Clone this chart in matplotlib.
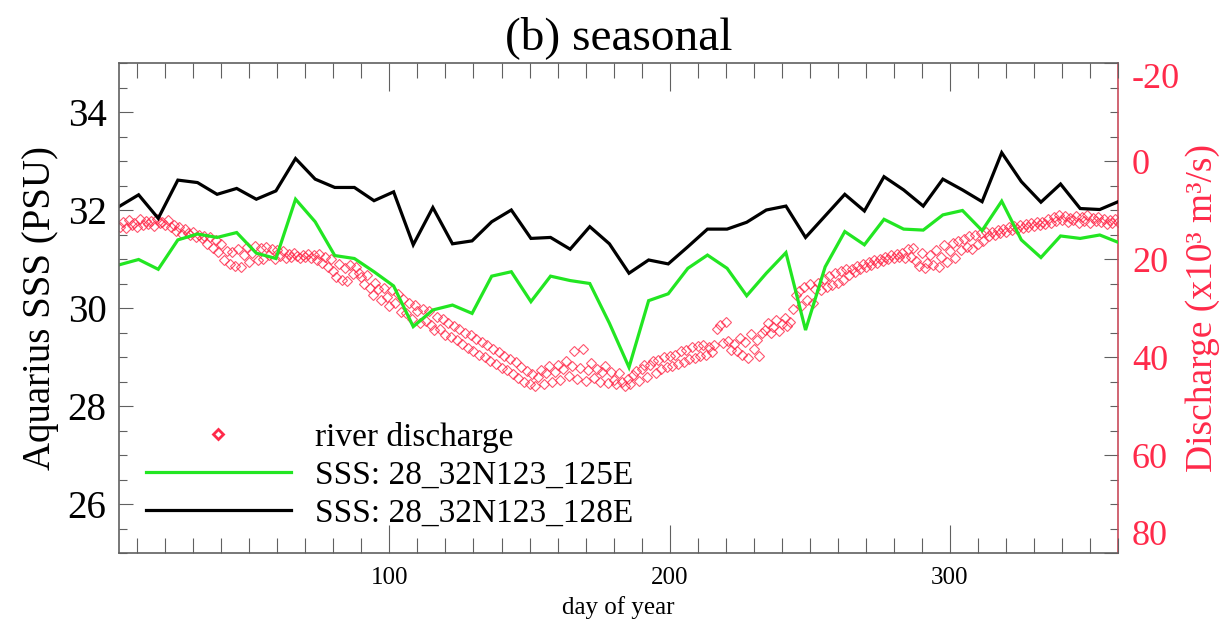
import numpy as np
import matplotlib
matplotlib.use("Agg")
import matplotlib.pyplot as plt
from matplotlib.lines import Line2D
from matplotlib.ticker import MultipleLocator, FixedLocator

plt.rcParams['font.family'] = ['Liberation Serif', 'DejaVu Serif']

# ---------------- data ----------------
title = "(b) seasonal"
xlabel = "day of year"
ylabel_left = "Aquarius SSS (PSU)"
ylabel_right = "Discharge (x10\u00b3 m\u00b3/s)"
label_dis = "river discharge"
label_g = "SSS: 28_32N123_125E"
label_k = "SSS: 28_32N123_128E"

week_days = np.arange(52) * 7 + 3.5

sss_125E = [30.88, 30.99, 30.79, 31.39, 31.51, 31.44, 31.54, 31.12, 31.01, 32.22,
            31.76, 31.07, 31.01, 30.74, 30.45, 29.62, 29.96, 30.06, 29.89, 30.65,
            30.74, 30.13, 30.65, 30.56, 30.50, 29.69, 28.79, 30.15, 30.29, 30.81,
            31.08, 30.81, 30.25, 30.71, 31.13, 29.55, 30.84, 31.56, 31.29, 31.81,
            31.61, 31.59, 31.90, 31.99, 31.58, 32.18, 31.39, 31.03, 31.47, 31.42,
            31.49, 31.33]

sss_128E = [32.07, 32.31, 31.83, 32.61, 32.56, 32.32, 32.44, 32.22, 32.39, 33.05,
            32.63, 32.46, 32.46, 32.19, 32.37, 31.29, 32.05, 31.31, 31.37, 31.76,
            32.00, 31.42, 31.44, 31.20, 31.66, 31.31, 30.71, 30.98, 30.90, 31.25,
            31.61, 31.61, 31.75, 32.00, 32.08, 31.44, 31.88, 32.32, 31.98, 32.68,
            32.41, 32.08, 32.63, 32.41, 32.17, 33.17, 32.58, 32.16, 32.53, 32.03,
            32.01, 32.18]

dis_days = np.arange(4, 361)
discharge = [
    13.4, 12.4, 13.6, 12.0, 13.0, 12.7, 13.5, 11.9, 13.1, 12.3,
    12.9, 12.2, 13.3, 11.8, 12.6, 12.4, 13.1, 12.0, 13.4, 13.0,
    14.2, 13.5, 14.8, 13.9, 14.6, 15.0, 14.4, 15.6, 15.1, 15.8,
    15.4, 16.9, 15.6, 17.8, 16.2, 18.6, 17.0, 20.2, 18.4, 21.0,
    18.6, 21.4, 18.0, 21.6, 19.2, 17.6, 20.6, 18.8, 17.4, 20.2,
    17.8, 19.9, 17.5, 19.2, 17.9, 20.0, 18.2, 19.4, 18.4, 19.8,
    19.0, 19.6, 18.8, 19.3, 19.8, 19.1, 19.5, 18.9, 19.7, 19.2,
    20.2, 19.0, 20.8, 19.5, 21.6, 19.9, 22.4, 23.6, 21.0, 24.2,
    21.8, 24.4, 21.2, 23.0, 21.6, 22.9, 23.6, 25.2, 23.2, 26.0,
    27.4, 24.8, 26.2, 28.3, 25.9, 27.8, 29.6, 26.4, 28.9, 27.2,
    30.8, 28.2, 31.0, 29.0, 32.2, 29.4, 30.6, 33.0, 30.2, 32.6,
    30.6, 33.4, 34.4, 31.8, 34.2, 32.2, 35.6, 33.0, 36.0, 33.6,
    36.6, 34.2, 37.4, 35.0, 38.2, 35.6, 38.8, 36.4, 39.6, 37.0,
    40.0, 37.6, 40.8, 38.4, 41.4, 39.0, 42.2, 39.8, 42.6, 40.4,
    43.4, 41.0, 44.2, 42.0, 45.0, 42.8, 45.6, 43.4, 46.0, 44.0,
    42.6, 45.6, 43.2, 41.8, 45.2, 43.0, 41.6, 44.6, 42.4, 40.8,
    43.8, 41.8, 38.8, 44.4, 42.2, 38.4, 44.8, 42.6, 41.2, 44.2,
    42.4, 45.0, 43.0, 41.8, 45.4, 43.0, 44.6, 45.6, 43.2, 45.0,
    46.0, 44.4, 45.6, 43.6, 42.8, 44.8, 42.4, 41.6, 44.0, 41.6,
    40.8, 43.2, 40.6, 42.4, 40.0, 42.0, 39.8, 41.8, 39.6, 41.4,
    38.8, 41.0, 38.6, 40.4, 38.0, 40.2, 37.8, 39.8, 37.6, 39.6,
    37.9, 38.9, 37.5, 34.2, 33.4, 37.2, 32.8, 36.8, 38.6, 37.4,
    38.8, 36.2, 39.6, 37.0, 40.2, 35.4, 38.4, 36.6, 39.8, 35.0,
    34.4, 33.0, 35.0, 33.8, 32.4, 34.6, 33.2, 32.0, 33.6, 32.8,
    30.2, 27.4, 26.6, 29.6, 25.8, 28.4, 25.2, 29.0, 26.2, 24.8,
    26.4, 24.0, 25.8, 23.4, 25.4, 22.8, 24.8, 22.4, 24.2, 22.0,
    23.2, 22.0, 22.6, 21.5, 22.1, 21.0, 21.7, 20.6, 21.3, 20.2,
    20.9, 19.9, 20.4, 19.5, 20.1, 19.2, 19.8, 18.9, 19.6, 18.7,
    19.8, 18.0, 19.6, 17.8, 20.4, 21.4, 18.8, 21.8, 20.8, 19.2,
    21.2, 18.2, 21.6, 19.6, 17.2, 20.6, 18.4, 16.8, 19.8, 16.4,
    18.2, 16.0, 17.6, 15.4, 17.9, 15.0, 17.0, 14.7, 16.4, 14.4,
    15.4, 14.4, 15.0, 14.0, 14.6, 13.8, 14.4, 13.5, 14.1, 13.2,
    13.9, 13.0, 13.6, 12.8, 13.4, 12.6, 13.3, 12.5, 13.1, 12.4,
    12.9, 11.8, 12.6, 11.4, 12.2, 11.0, 12.0, 11.3, 12.4, 11.6,
    12.1, 11.2, 12.6, 11.5, 12.3, 11.0, 12.7, 11.7, 12.2, 11.4,
    12.5, 11.8, 12.9, 12.0, 12.6, 11.9, 12.4,
]

left_ticks = [26, 28, 30, 32, 34]
right_ticks = [-20, 0, 20, 40, 60, 80]
x_ticks = [100, 200, 300]

# ---------------- style ----------------
RED = '#ff2a4a'
GREEN = '#22e622'
SPINE = '#606060'

fig = plt.figure(figsize=(12.21, 6.2), dpi=100)
ax = fig.add_axes([119 / 1221, 1 - 553 / 620, 999 / 1221, 490 / 620])
ax2 = ax.twinx()
ax.set_zorder(ax2.get_zorder() + 1)
ax.patch.set_visible(False)

ax2.plot(dis_days, discharge, linestyle='none', marker='D', markersize=5,
         markerfacecolor='none', markeredgecolor=RED, markeredgewidth=0.8, alpha=0.8)
ax2.set_ylim(80, -20)

ax.plot(week_days, sss_125E, color=GREEN, lw=2.3, solid_joinstyle='miter')
ax.plot(week_days, sss_128E, color='black', lw=2.3, solid_joinstyle='miter')

ax.set_xlim(3.5, 360)
ax.set_ylim(25, 35)

# ticks
ax.xaxis.set_major_locator(FixedLocator(x_ticks))
ax.xaxis.set_minor_locator(MultipleLocator(10))
ax.yaxis.set_major_locator(FixedLocator(left_ticks))
ax.yaxis.set_minor_locator(MultipleLocator(0.5))
ax.tick_params(axis='x', which='major', direction='in', length=20, width=0.8,
               color=SPINE, top=True, labelsize=18, pad=10)
ax.tick_params(axis='x', which='minor', direction='in', length=11, width=0.8,
               color=SPINE, top=True)
ax.tick_params(axis='y', which='major', direction='in', length=10, width=0.8,
               color=SPINE, labelsize=28, pad=9, right=False)
ax.tick_params(axis='y', which='minor', direction='in', length=6, width=0.8,
               color=SPINE, right=False)

ax2.yaxis.set_major_locator(FixedLocator(right_ticks))
ax2.yaxis.set_minor_locator(MultipleLocator(5))
ax2.tick_params(axis='y', which='major', direction='in', length=10, width=0.8,
                color=SPINE, labelsize=26, labelcolor=RED, pad=10)
ax2.tick_params(axis='y', which='minor', direction='in', length=6, width=0.8,
                color=SPINE)

for sp in ax.spines.values():
    sp.set_color(SPINE)
    sp.set_linewidth(1.2)
for name, sp in ax2.spines.items():
    sp.set_visible(name == 'right')
ax2.spines['right'].set_color('#c84a5a')
ax2.spines['right'].set_linewidth(1.2)
ax.spines['right'].set_visible(False)

ax2.set_yticklabels([str(v) for v in right_ticks])
labs = ax2.get_yticklabels()
labs[0].set_va('top')
labs[-1].set_va('bottom')

ax.set_title(title, fontsize=34, pad=10)
ax.set_xlabel(xlabel, fontsize=18, labelpad=5)
ax.set_ylabel(ylabel_left, fontsize=28, labelpad=6)
ax2.set_ylabel(ylabel_right, fontsize=27, color=RED, labelpad=4)

handles = [
    Line2D([], [], linestyle='none', marker='D', markersize=5, markerfacecolor='none',
           markeredgecolor=RED, markeredgewidth=2.0),
    Line2D([], [], color=GREEN, lw=2.3),
    Line2D([], [], color='black', lw=2.3),
]
ax.legend(handles, [label_dis, label_g, label_k], loc='lower left',
          bbox_to_anchor=(0.027, 0.05), frameon=False, fontsize=24,
          handlelength=4.35, handletextpad=0.72, labelspacing=0.22,
          borderpad=0, borderaxespad=0, numpoints=1)

fig.savefig('out.png', dpi=100)
